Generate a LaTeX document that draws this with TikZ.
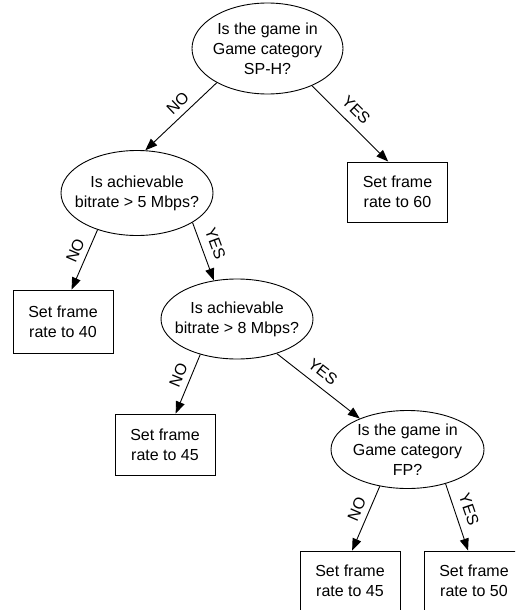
\documentclass[tikz,border=0pt]{standalone}
\usepackage{fontspec}
\setmainfont{Liberation Sans}
\usetikzlibrary{shapes.geometric,arrows.meta}
\begin{document}
\begin{tikzpicture}[x=1pt,y=-1pt,
  every node/.style={font=\fontsize{16}{20}\selectfont, align=center},
  q/.style={ellipse, draw, line width=0.9pt, inner xsep=-12pt, inner ysep=0pt},
  act/.style={rectangle, draw, line width=0.9pt, minimum width=100pt, minimum height=61pt, inner sep=0pt},
  arr/.style={line width=0.9pt, -{Triangle[length=12pt,width=9pt]}},
  nolab/.style={sloped, above=4pt, inner sep=2pt, pos=0.43},
  yeslab/.style={sloped, above=6pt, inner sep=2pt, pos=0.45}
]
\clip (0,0) rectangle (515,610);
\useasboundingbox (0,0) rectangle (515,610);

\node[q, minimum width=151pt, minimum height=91pt] (q1) at (267.5,48.5) {Is the game in\\Game category\\SP-H?};
\node[act, minimum height=60pt] (a60) at (397.5,192) {Set frame\\rate to 60};
\node[q, minimum width=152pt, minimum height=85pt] (q2) at (137,193) {Is achievable\\bitrate > 5 Mbps?};
\node[act, minimum height=63pt] (a40) at (63,321.5) {Set frame\\rate to 40};
\node[q, minimum width=152pt, minimum height=80pt] (q3) at (237,319) {Is achievable\\bitrate > 8 Mbps?};
\node[act] (a45) at (165,444.5) {Set frame\\rate to 45};
\node[q, minimum width=153pt, minimum height=78pt] (q4) at (407.5,449.5) {Is the game in\\Game category\\FP?};
\node[act, minimum height=60pt] (a45b) at (350,581) {Set frame\\rate to 45};
\node[act, minimum height=60pt] (a50) at (474,581) {Set frame\\rate to 50};

\draw[arr] (q1.214) -- node[nolab] {NO} (q2.79);
\draw[arr] (q1.320.5) -- node[yeslab] {YES} (a60.107);
\draw[arr] (q2.223.5) -- node[nolab] {NO} (a40.75.7);
\draw[arr] (q2.332.6) -- node[yeslab] {YES} (q3.121);
\draw[arr] (q3.224) -- node[nolab] {NO} (a45.71.8);
\draw[arr] (q3.319.6) -- node[yeslab] {YES} (q4.147.2);
\draw[arr] (q4.233.7) -- node[nolab] {NO} (a45b.86);
\draw[arr] (q4.318) -- node[yeslab] {YES} (a50.101.3);
\end{tikzpicture}
\end{document}
